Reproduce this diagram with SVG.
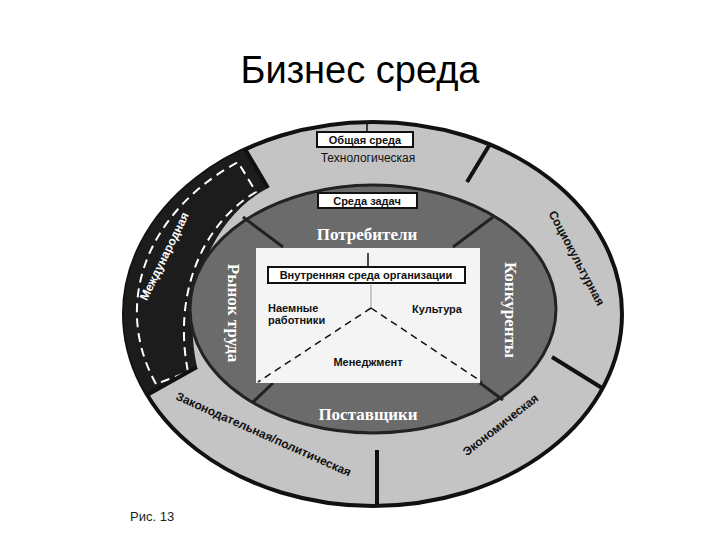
<svg xmlns="http://www.w3.org/2000/svg" width="720" height="540" viewBox="0 0 720 540">
<style>
.lbl{font-family:"Liberation Sans",Arial,sans-serif;font-weight:bold;font-size:11px;fill:#111;text-anchor:middle}
.rl{font-size:12px}
.wl{font-family:"Liberation Serif","Times New Roman",serif;font-weight:bold;font-size:17px;fill:#fff;text-anchor:middle}
.box{fill:#fff;stroke:#111;stroke-width:2}
.div{stroke:#111;stroke-width:4;fill:none}
</style>
<rect width="720" height="540" fill="#fff"/>
<text x="360" y="83" font-family="Liberation Sans, Arial, sans-serif" font-size="38" text-anchor="middle" fill="#000">Бизнес среда</text>
<g id="outer">
<ellipse cx="373" cy="314" rx="249" ry="192" fill="#c4c4c4" stroke="#111" stroke-width="4"/>
<path d="M147,395 A249,192 0 0 1 245,149 L268,188 C215,215 180,290 197,367 Z" fill="#1c1c1c"/>
<path d="M156,384 A240,184 0 0 1 238,162 L256,192 C205,222 172,290 188,372 Z" fill="none" stroke="#fff" stroke-width="2" stroke-dasharray="9,6"/>
<path class="div" d="M245,149 L268,188 M490,144 L467,182 M552,357 L602,388 M377,450 L377,505 M147,395 L197,367"/>
</g>
<g id="task">
<ellipse cx="373" cy="309" rx="183" ry="124" fill="#6b6b6b" stroke="#222" stroke-width="3"/>
<path stroke="#222" stroke-width="3" d="M243,217 L283,247 M493,217 L453,247 M252,403 L273,383 M480,383 L503,400"/>
</g>
<g id="internal">
<rect x="256" y="248" width="224" height="135" fill="#f4f4f4"/>
<line x1="368" y1="253" x2="368" y2="267" stroke="#111" stroke-width="1.5"/>
<line x1="371" y1="285" x2="371" y2="308" stroke="#999" stroke-width="1"/>
<path d="M371,308 L258,382 M371,308 L482,382" stroke="#111" stroke-width="1.5" stroke-dasharray="7,5" fill="none"/>
<rect class="box" x="268" y="267" width="197" height="16"/>
<text class="lbl" x="366" y="279">Внутренняя среда организации</text>
<text class="lbl" x="268" y="312" style="text-anchor:start">Наемные</text>
<text class="lbl" x="268" y="324" style="text-anchor:start">работники</text>
<text class="lbl" x="437" y="313">Культура</text>
<text class="lbl" x="368" y="366">Менеджмент</text>
</g>
<g id="labels">
<line x1="367" y1="121" x2="367" y2="132" stroke="#111" stroke-width="1.5"/>
<rect class="box" x="317" y="132" width="96" height="15"/>
<text class="lbl" x="365" y="144">Общая среда</text>
<text class="lbl rl" x="368" y="162" style="font-weight:normal">Технологическая</text>
<rect class="box" x="318" y="193" width="99" height="15"/>
<text class="lbl" x="367" y="205">Среда задач</text>
<text class="wl" x="367" y="240">Потребители</text>
<text class="wl" x="368" y="420">Поставщики</text>
<text class="wl" transform="translate(228,313) rotate(90)">Рынок труда</text>
<text class="wl" transform="translate(505,310) rotate(90)">Конкуренты</text>
<text class="lbl rl" style="fill:#fff" transform="translate(168,258) rotate(-64)">Международная</text>
<text class="lbl rl" transform="translate(573,260) rotate(62)">Социокультурная</text>
<text class="lbl rl" transform="translate(503,428) rotate(-38)">Экономическая</text>
<text class="lbl rl" transform="translate(262,438) rotate(24)">Законодательная/политическая</text>
</g>
<text x="130" y="521" font-family="Liberation Sans, Arial, sans-serif" font-size="13" fill="#222">Рис. 13</text>
</svg>
